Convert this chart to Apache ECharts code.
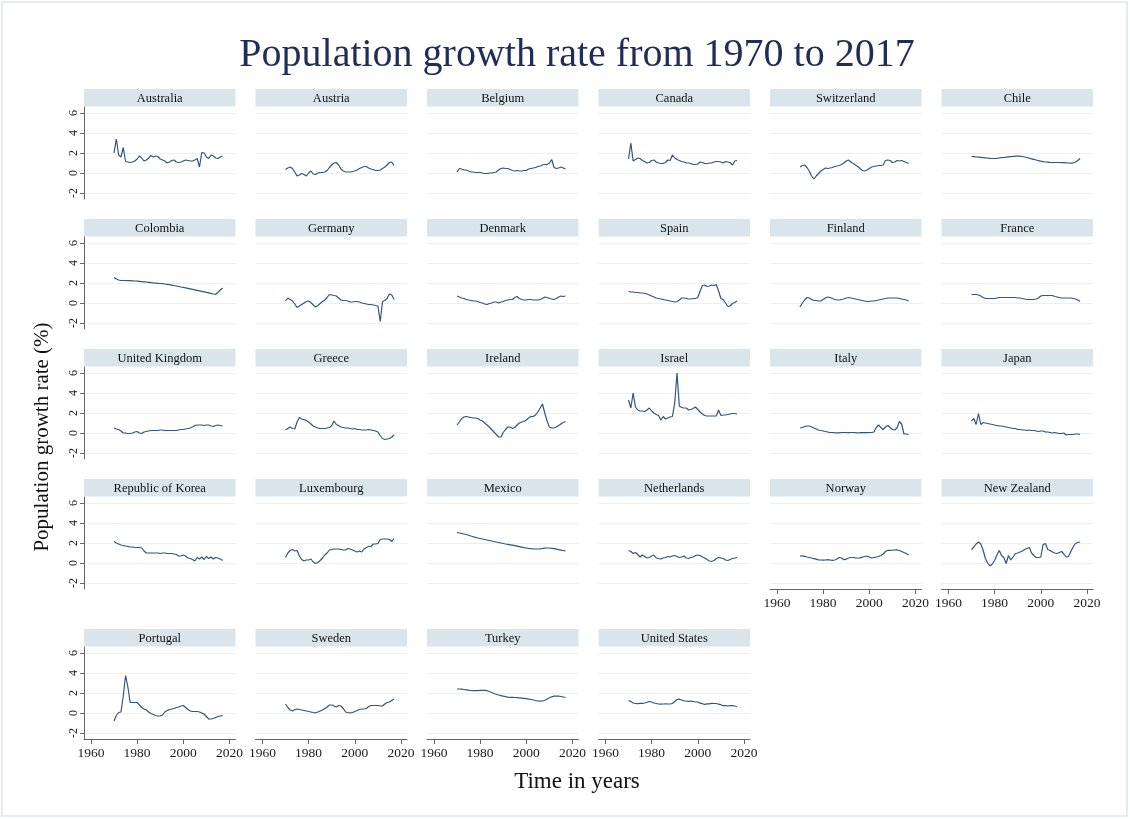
<!DOCTYPE html>
<html><head><meta charset="utf-8">
<script src="https://cdn.jsdelivr.net/npm/echarts@6/dist/echarts.min.js"></script>
<style>html,body{margin:0;padding:0;background:#fff}#c{width:1130px;height:819px}</style>
</head><body><div id="c"></div>
<script>
const years = [1970,1971,1972,1973,1974,1975,1976,1977,1978,1979,
  1980,1981,1982,1983,1984,1985,1986,1987,1988,1989,
  1990,1991,1992,1993,1994,1995,1996,1997,1998,1999,
  2000,2001,2002,2003,2004,2005,2006,2007,2008,2009,
  2010,2011,2012,2013,2014,2015,2016,2017];
const countries = ["Australia","Austria","Belgium","Canada","Switzerland","Chile",
  "Colombia","Germany","Denmark","Spain","Finland","France",
  "United Kingdom","Greece","Ireland","Israel","Italy","Japan",
  "Republic of Korea","Luxembourg","Mexico","Netherlands","Norway","New Zealand",
  "Portugal","Sweden","Turkey","United States"];
const xTicks = [1960,1980,2000,2020];
const yTicks = [-2,0,2,4,6];

const australia = [2.0,3.4,1.8,1.6,2.55,1.15,1.1,1.05,1.1,1.2, 1.4,1.7,1.5,1.2,1.3,1.5,1.75,1.6,1.7,1.65, 1.4,1.3,1.2,1.0,1.1,1.25,1.3,1.1,1.05,1.1, 1.2,1.3,1.25,1.2,1.2,1.3,1.45,0.6,2.05,2.0, 1.6,1.45,1.8,1.7,1.5,1.45,1.6,1.7];
const austria = [0.35,0.5,0.6,0.45,0.1,-0.3,-0.2,-0.05,-0.15,-0.3, 0.0,0.2,-0.1,-0.15,0.0,0.05,0.05,0.1,0.25,0.55, 0.8,1.0,1.05,0.8,0.4,0.2,0.12,0.1,0.1,0.15, 0.2,0.3,0.45,0.55,0.65,0.65,0.5,0.4,0.35,0.25, 0.25,0.3,0.45,0.6,0.8,1.05,1.1,0.75];
const belgium = [0.1,0.45,0.4,0.3,0.3,0.2,0.1,0.1,0.05,0.05, 0.05,0.0,-0.05,-0.05,0.0,0.0,0.05,0.1,0.3,0.45, 0.5,0.45,0.45,0.35,0.25,0.2,0.25,0.2,0.2,0.25, 0.25,0.4,0.45,0.5,0.55,0.65,0.7,0.8,0.85,0.85, 1.0,1.35,0.55,0.45,0.5,0.6,0.5,0.4];
const canada = [1.4,3.0,1.2,1.35,1.5,1.45,1.25,1.15,1.0,1.05, 1.25,1.3,1.1,1.0,0.95,0.95,1.05,1.3,1.25,1.8, 1.5,1.35,1.25,1.15,1.1,1.0,1.0,0.95,0.85,0.85, 0.9,1.1,1.05,0.95,0.95,1.0,1.0,1.1,1.15,1.15, 1.1,1.0,1.15,1.1,1.05,0.8,1.2,1.25];
const switzerland = [0.6,0.75,0.8,0.55,0.2,-0.3,-0.6,-0.3,-0.05,0.2, 0.35,0.5,0.45,0.5,0.55,0.65,0.7,0.75,0.85,1.0, 1.2,1.3,1.1,0.95,0.8,0.65,0.45,0.25,0.2,0.3, 0.45,0.6,0.65,0.7,0.75,0.75,0.8,1.25,1.3,1.25, 1.05,1.1,1.25,1.2,1.25,1.15,1.05,0.95];
const chile = [1.65,1.63,1.6,1.58,1.56,1.54,1.52,1.5,1.47,1.45, 1.45,1.47,1.5,1.53,1.55,1.58,1.61,1.64,1.67,1.69, 1.7,1.68,1.65,1.6,1.55,1.48,1.42,1.36,1.3,1.24, 1.18,1.13,1.1,1.08,1.06,1.05,1.05,1.05,1.05,1.04, 1.03,1.02,1.0,0.98,1.0,1.1,1.25,1.45];
const colombia = [2.55,2.4,2.3,2.25,2.25,2.25,2.24,2.23,2.22,2.2, 2.18,2.16,2.14,2.12,2.1,2.07,2.04,2.01,1.99,1.97, 1.95,1.93,1.9,1.87,1.83,1.79,1.75,1.7,1.65,1.6, 1.56,1.52,1.47,1.42,1.37,1.32,1.27,1.22,1.17,1.12, 1.07,1.02,0.96,0.9,0.87,1.05,1.3,1.5];
const germany = [0.2,0.5,0.35,0.2,-0.1,-0.45,-0.3,-0.15,0.0,0.15, 0.2,0.05,-0.2,-0.4,-0.25,-0.05,0.15,0.3,0.55,0.85, 0.8,0.75,0.7,0.5,0.3,0.25,0.25,0.2,0.1,0.1, 0.15,0.15,0.1,0.0,-0.05,-0.1,-0.15,-0.15,-0.2,-0.25, -0.3,-1.85,0.15,0.25,0.45,0.9,0.8,0.35];
const denmark = [0.7,0.6,0.5,0.45,0.35,0.3,0.25,0.2,0.2,0.15, 0.05,0.0,-0.1,-0.15,-0.05,0.0,0.1,0.1,0.0,0.1, 0.15,0.25,0.3,0.35,0.35,0.55,0.65,0.45,0.35,0.3, 0.3,0.35,0.35,0.3,0.3,0.3,0.35,0.45,0.6,0.55, 0.45,0.4,0.35,0.45,0.6,0.7,0.65,0.7];
const spain = [1.15,1.1,1.1,1.05,1.05,1.0,1.0,0.95,0.9,0.8, 0.7,0.6,0.5,0.45,0.4,0.35,0.3,0.25,0.2,0.15, 0.1,0.15,0.3,0.5,0.5,0.45,0.4,0.4,0.45,0.45, 0.55,1.2,1.75,1.8,1.65,1.7,1.8,1.75,1.85,1.2, 0.45,0.35,0.0,-0.35,-0.3,-0.05,0.05,0.2];
const finland = [-0.4,0.0,0.3,0.55,0.5,0.35,0.25,0.25,0.2,0.2, 0.35,0.5,0.6,0.55,0.45,0.35,0.3,0.3,0.35,0.4, 0.5,0.55,0.5,0.45,0.4,0.35,0.3,0.25,0.2,0.15, 0.15,0.2,0.2,0.25,0.3,0.35,0.4,0.45,0.5,0.5, 0.5,0.5,0.5,0.45,0.4,0.35,0.3,0.2];
const france = [0.85,0.85,0.85,0.8,0.7,0.55,0.45,0.45,0.45,0.45, 0.45,0.5,0.55,0.55,0.55,0.55,0.55,0.55,0.55,0.55, 0.5,0.5,0.45,0.4,0.35,0.35,0.35,0.35,0.4,0.5, 0.7,0.75,0.75,0.75,0.75,0.75,0.65,0.6,0.55,0.5, 0.5,0.5,0.5,0.5,0.45,0.4,0.3,0.15];
const unitedKingdom = [0.5,0.4,0.35,0.2,0.0,0.0,-0.05,-0.05,0.0,0.1, 0.15,0.0,-0.05,0.1,0.15,0.2,0.25,0.25,0.25,0.25, 0.3,0.3,0.25,0.25,0.25,0.25,0.25,0.25,0.3,0.35, 0.35,0.4,0.45,0.5,0.6,0.75,0.8,0.8,0.8,0.75, 0.8,0.8,0.7,0.65,0.75,0.8,0.75,0.7];
const greece = [0.3,0.45,0.6,0.45,0.4,1.1,1.55,1.4,1.35,1.25, 1.1,0.9,0.7,0.6,0.5,0.45,0.45,0.45,0.5,0.55, 0.75,1.2,0.85,0.75,0.6,0.55,0.5,0.5,0.45,0.4, 0.45,0.35,0.35,0.3,0.3,0.3,0.35,0.3,0.25,0.2, 0.1,-0.25,-0.55,-0.65,-0.6,-0.55,-0.4,-0.2];
const ireland = [0.8,1.1,1.45,1.6,1.65,1.6,1.55,1.5,1.5,1.45, 1.3,1.2,1.0,0.8,0.6,0.35,0.1,-0.15,-0.4,-0.4, 0.05,0.35,0.6,0.6,0.45,0.55,0.8,1.0,1.1,1.15, 1.3,1.5,1.65,1.65,1.8,2.1,2.5,2.9,2.0,1.2, 0.6,0.5,0.5,0.6,0.75,0.9,1.05,1.15];
const israel = [3.3,2.5,4.0,2.6,2.3,2.2,2.2,2.15,2.3,2.5, 2.2,2.0,1.85,1.75,1.3,1.65,1.4,1.5,1.6,1.65, 3.0,6.0,2.7,2.55,2.5,2.5,2.3,2.35,2.45,2.6, 2.35,2.1,1.9,1.75,1.7,1.7,1.7,1.7,1.7,2.3, 1.75,1.8,1.8,1.85,1.9,1.95,1.95,1.9];
const italy = [0.5,0.55,0.65,0.7,0.7,0.6,0.5,0.4,0.3,0.25, 0.2,0.15,0.1,0.05,0.05,0.03,0.02,0.02,0.05,0.05, 0.05,0.03,0.05,0.05,0.03,0.02,0.03,0.05,0.03,0.03, 0.05,0.05,0.1,0.55,0.8,0.55,0.35,0.6,0.75,0.55, 0.35,0.3,0.5,1.15,0.9,-0.1,-0.1,-0.15];
const japan = [1.2,1.45,0.85,1.95,0.85,1.05,1.0,0.95,0.9,0.85, 0.8,0.75,0.7,0.7,0.65,0.6,0.55,0.5,0.45,0.45, 0.35,0.35,0.3,0.3,0.25,0.3,0.25,0.25,0.2,0.15, 0.2,0.2,0.1,0.1,0.05,0.0,0.05,0.0,-0.05,-0.05, 0.0,-0.2,-0.15,-0.15,-0.15,-0.1,-0.1,-0.15];
const korea = [2.15,2.0,1.9,1.8,1.75,1.7,1.65,1.6,1.6,1.55, 1.55,1.55,1.5,1.2,1.0,1.0,1.0,1.0,1.0,1.0, 0.95,1.0,1.0,0.95,0.95,0.95,0.9,0.85,0.7,0.7, 0.8,0.7,0.5,0.45,0.35,0.2,0.55,0.4,0.6,0.35, 0.65,0.45,0.6,0.4,0.55,0.5,0.4,0.25];
const luxembourg = [0.55,1.0,1.25,1.35,1.2,1.25,0.7,0.35,0.2,0.3, 0.3,0.4,0.1,-0.05,0.05,0.25,0.5,0.8,1.0,1.3, 1.35,1.4,1.4,1.4,1.35,1.3,1.3,1.45,1.4,1.3, 1.2,1.1,1.2,1.1,1.4,1.55,1.65,1.65,1.9,1.9, 1.95,2.35,2.4,2.4,2.4,2.35,2.15,2.45];
const mexico = [3.05,3.0,2.95,2.9,2.85,2.78,2.7,2.63,2.56,2.5, 2.45,2.4,2.35,2.3,2.25,2.2,2.15,2.1,2.05,2.0, 1.95,1.9,1.86,1.82,1.78,1.73,1.68,1.63,1.58,1.53, 1.5,1.46,1.43,1.41,1.4,1.4,1.42,1.45,1.48,1.5, 1.5,1.47,1.43,1.38,1.33,1.29,1.25,1.2];
const netherlands = [1.25,1.15,0.95,1.05,0.85,0.6,0.8,0.65,0.5,0.55, 0.7,0.8,0.5,0.45,0.4,0.5,0.55,0.65,0.6,0.7, 0.75,0.65,0.55,0.6,0.7,0.5,0.45,0.55,0.6,0.75, 0.8,0.75,0.6,0.5,0.35,0.2,0.15,0.25,0.45,0.55, 0.5,0.45,0.3,0.25,0.35,0.45,0.5,0.55];
const norway = [0.7,0.72,0.67,0.6,0.55,0.5,0.43,0.38,0.32,0.3, 0.28,0.3,0.33,0.3,0.27,0.3,0.4,0.55,0.5,0.33, 0.38,0.5,0.55,0.55,0.52,0.5,0.52,0.58,0.65,0.7, 0.6,0.5,0.55,0.6,0.65,0.75,0.9,1.15,1.27,1.27, 1.28,1.3,1.33,1.25,1.15,1.05,0.95,0.8];
const newZealand = [1.35,1.6,1.9,2.1,1.9,1.3,0.45,0.0,-0.3,-0.1, 0.25,0.8,1.25,0.75,0.55,-0.05,0.75,0.3,0.6,0.95, 1.0,1.1,1.2,1.35,1.45,1.55,1.0,0.75,0.55,0.55, 0.6,1.85,1.95,1.35,1.25,1.1,1.0,0.95,1.05,1.15, 0.9,0.6,0.65,1.15,1.6,1.95,2.05,2.1];
const portugal = [-0.8,-0.25,0.05,0.1,1.7,3.75,2.6,1.05,1.05,1.05, 1.05,0.8,0.55,0.4,0.3,0.1,-0.05,-0.15,-0.25,-0.3, -0.3,-0.2,0.1,0.25,0.35,0.4,0.45,0.55,0.6,0.7, 0.75,0.55,0.35,0.2,0.15,0.15,0.15,0.1,0.0,-0.1, -0.35,-0.6,-0.6,-0.55,-0.45,-0.35,-0.3,-0.25];
const sweden = [0.9,0.55,0.3,0.2,0.35,0.4,0.35,0.3,0.25,0.2, 0.15,0.1,0.05,0.02,0.1,0.2,0.3,0.45,0.6,0.8, 0.8,0.7,0.6,0.75,0.7,0.45,0.1,0.05,0.02,0.05, 0.15,0.25,0.35,0.4,0.4,0.45,0.65,0.75,0.75,0.75, 0.75,0.7,0.7,0.9,1.05,1.1,1.25,1.4];
const turkey = [2.4,2.4,2.38,2.35,2.32,2.28,2.25,2.23,2.23,2.24, 2.26,2.27,2.27,2.23,2.15,2.05,1.95,1.87,1.8,1.74, 1.68,1.63,1.59,1.57,1.56,1.55,1.54,1.52,1.49,1.46, 1.43,1.39,1.35,1.3,1.25,1.21,1.18,1.2,1.28,1.4, 1.52,1.62,1.68,1.69,1.68,1.65,1.6,1.55];
const unitedStates = [1.25,1.15,1.0,0.95,0.93,0.97,0.97,1.0,1.07,1.15, 1.1,1.0,0.95,0.9,0.88,0.9,0.92,0.9,0.9,0.95, 1.15,1.35,1.38,1.3,1.22,1.2,1.17,1.2,1.15,1.1, 1.1,0.99,0.93,0.86,0.92,0.92,0.96,0.95,0.95,0.88, 0.83,0.73,0.73,0.7,0.74,0.74,0.7,0.63];

const seriesValues = [australia, austria, belgium, canada, switzerland, chile,
  colombia, germany, denmark, spain, finland, france,
  unitedKingdom, greece, ireland, israel, italy, japan,
  korea, luxembourg, mexico, netherlands, norway, newZealand,
  portugal, sweden, turkey, unitedStates];

// ---- layout ----
const NCOL = 6;
const COL_LEFT = 84, COL_PITCH = 171.5, PANEL_W = 151.5;
const ROW_TOP = [89, 219, 349, 479, 629];
const HEAD_H = 17.5, HEAD_GAP = 18, PLOT_H = 92;
const SERIF = "'Liberation Serif', 'DejaVu Serif', serif";
const LINE_COLOR = '#35557a';
const GRID_COLOR = '#e9f0f3';
const AXIS_COLOR = '#666666';
const STRIP_COLOR = '#d9e5eb';

const N = countries.length;
const grids = [], xAxes = [], yAxes = [], series = [], graphics = [];

graphics.push({type:'rect', shape:{x:2, y:2, width:1125, height:814},
  style:{fill:'none', stroke:'#e4ecef', lineWidth:2}, silent:true});

for (let i = 0; i < N; i++) {
  const r = Math.floor(i / NCOL), c = i % NCOL;
  const left = COL_LEFT + c * COL_PITCH;
  const headTop = ROW_TOP[r];
  const top = headTop + HEAD_GAP;
  const isLeft = c === 0;
  const isBottom = i + NCOL >= N;

  grids.push({left: left, top: top, width: PANEL_W, height: PLOT_H, containLabel: false});

  graphics.push({type:'rect', shape:{x:left, y:headTop, width:PANEL_W, height:HEAD_H},
    style:{fill:STRIP_COLOR}, silent:true});
  graphics.push({type:'text', x:left + PANEL_W/2, y:headTop + HEAD_H/2 + 0.5,
    style:{text:countries[i], textAlign:'center', textVerticalAlign:'middle',
      font:"12.5px " + SERIF, fill:'#111'}, silent:true});

  xAxes.push({
    type:'value', gridIndex:i, min:1957, max:2022.6,
    axisLine:{show:isBottom, onZero:false, lineStyle:{color:AXIS_COLOR, width:1}},
    axisTick:{show:isBottom, length:5, customValues:xTicks, lineStyle:{color:AXIS_COLOR}},
    axisLabel:{show:isBottom, customValues:xTicks, margin:7, fontFamily:SERIF, fontSize:13.5, color:'#1a1a1a',
      formatter: v => String(v)},
    splitLine:{show:false}
  });
  yAxes.push({
    type:'value', gridIndex:i, min:-2.6, max:6.6,
    axisLine:{show:isLeft, lineStyle:{color:AXIS_COLOR, width:1}},
    axisTick:{show:isLeft, length:4, customValues:yTicks, lineStyle:{color:AXIS_COLOR}},
    axisLabel:{show:isLeft, customValues:yTicks, rotate:90, margin:4, fontFamily:SERIF, fontSize:12, color:'#222'},
    splitLine:{show:true, lineStyle:{color:GRID_COLOR, width:1.2}}
  });
  series.push({
    type:'line', name:countries[i], xAxisIndex:i, yAxisIndex:i,
    data: years.map((y, k) => [y, seriesValues[i][k]]),
    showSymbol:false, symbol:'none', smooth:false,
    lineStyle:{color:LINE_COLOR, width:1.2}, silent:true
  });
}

graphics.push({type:'text', x:577, y:55,
  style:{text:'Population growth rate from 1970 to 2017', textAlign:'center', textVerticalAlign:'middle',
    font:"40px " + SERIF, fill:'#1f2d57'}, silent:true});
graphics.push({type:'text', x:42, y:437, rotation:Math.PI/2,
  style:{text:'Population growth rate (%)', textAlign:'center', textVerticalAlign:'middle',
    font:"21px " + SERIF, fill:'#111'}, silent:true});
graphics.push({type:'text', x:577, y:782,
  style:{text:'Time in years', textAlign:'center', textVerticalAlign:'middle',
    font:"23px " + SERIF, fill:'#111'}, silent:true});

const chart = echarts.init(document.getElementById('c'), null, {renderer:'canvas'});
chart.setOption({
  animation:false,
  backgroundColor:'#ffffff',
  grid:grids, xAxis:xAxes, yAxis:yAxes, series:series,
  graphic:graphics
});
</script></body></html>
